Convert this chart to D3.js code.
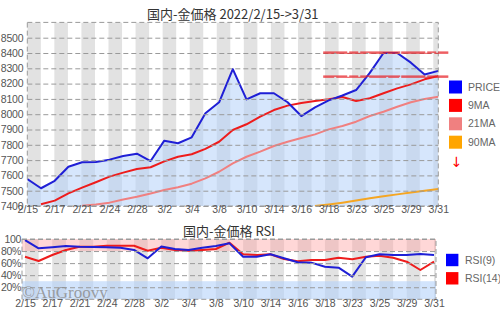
<!DOCTYPE html>
<html>
<head>
<meta charset="utf-8">
<script src="https://cdn.jsdelivr.net/npm/d3@7"></script>
<style>
body { margin: 0; background: #fff; }
svg { display: block; font-family: "Liberation Sans", Arial, sans-serif; }
</style>
</head>
<body>
<div id="chart"></div>
<script>
// trading days 2022/2/15 -> 3/31
const dates = ["2/15","2/16","2/17","2/18","2/21","2/22","2/24","2/25","2/28","3/1",
    "3/2","3/3","3/4","3/7","3/8","3/9","3/10","3/11","3/14","3/15",
    "3/16","3/17","3/18","3/22","3/23","3/24","3/25","3/28","3/29","3/30","3/31"];

const price = [7576, 7516, 7565, 7657, 7686, 7688, 7703, 7727, 7742, 7694,
    7827, 7810, 7849, 8006, 8078, 8295, 8097, 8137, 8137, 8078,
    7988, 8045, 8090, 8122, 8158, 8270, 8400, 8400, 8337, 8259, 8283];

const ma9 = [null, 7411, 7435, 7483, 7520, 7555, 7592, 7618, 7642, 7653,
    7692, 7722, 7738, 7773, 7820, 7897, 7934, 7984, 8027, 8056,
    8073, 8086, 8097, 8112, 8086, 8104, 8137, 8169, 8195, 8228, 8250];

const ma21 = [null, null, null, null, 7402, 7410, 7422, 7443, 7460, 7482,
    7505, 7522, 7546, 7581, 7624, 7679, 7722, 7755, 7792, 7820,
    7844, 7868, 7901, 7923, 7951, 7988, 8016, 8049, 8078, 8099, 8114];

const ma90 = [null, null, null, null, null, null, null, null, null, null,
    null, null, null, null, null, null, null, null, null, null,
    null, 7400, 7410, 7422, 7436, 7450, 7463, 7476, 7488, 7500, 7511];

const rsi9 = [98.3, 84.5, 86.2, 88.4, 87.2, 86.7, 86.2, 85.6, 81.8, 68,
    87.5, 83.4, 81.8, 85.6, 88.4, 92.8, 70.6, 70.6, 74.6, 68,
    61.4, 60.8, 54, 52.4, 37.5, 69.7, 74.6, 73.5, 73.5, 75.1, 73.5];

const rsi14 = [70.6, 63.5, 73.5, 81.8, 87.2, 87.2, 88.9, 88.9, 88.9, 80.6,
    85.6, 81.8, 80.6, 81.8, 83.4, 93.9, 74.6, 73.5, 74.6, 66.8,
    63, 65.2, 65.2, 69, 66.3, 70.6, 72.3, 69, 62.4, 48.6, 62.4];

// hand drawn resistance levels
const resistLevels = [8402, 8245];
const resistFrom = 21.6;

const priceTicks = d3.range(7400, 8501, 100);
const rsiTicks = [20, 40, 60, 80, 100];

const legendMain = [
    {name: "PRICE", color: "#0000ff"},
    {name: "9MA", color: "#ff0000"},
    {name: "21MA", color: "#f08080"},
    {name: "90MA", color: "#ffa500"}
];
const legendRsi = [
    {name: "RSI(9)", color: "#0000ff"},
    {name: "RSI(14)", color: "#ff0000"}
];

const width = 500, height = 310;
const svg = d3.select("#chart").append("svg")
    .attr("width", width)
    .attr("height", height);

const gridColor = "#9a9a9a";
const dash = "5,3";

// ---------------- main panel ----------------
const m = {left: 27.3, right: 438.3, top: 22.4, bottom: 206};

const x = d3.scaleLinear().domain([0, dates.length - 1]).range([m.left, m.right]);
const xBand = d3.scaleLinear().domain([0, dates.length - 1]).range([m.left, m.right - 5]);
const y = d3.scaleLinear().domain([7400, 8600]).range([m.bottom, m.top]);

svg.append("clipPath").attr("id", "clipMain")
    .append("rect")
    .attr("x", m.left).attr("y", m.top)
    .attr("width", m.right - m.left).attr("height", m.bottom - m.top);

const main = svg.append("g");
const plot = main.append("g").attr("clip-path", "url(#clipMain)");

const bandStep = xBand(1) - xBand(0);
plot.selectAll(".band")
    .data(d3.range(0, dates.length, 2))
    .join("rect")
    .attr("class", "band")
    .attr("x", d => xBand(d))
    .attr("y", m.top)
    .attr("width", bandStep)
    .attr("height", m.bottom - m.top)
    .attr("fill", "#e2e2e2");

// grid + y labels
const yAxis = main.append("g")
    .attr("transform", "translate(" + m.left + ",0)")
    .call(d3.axisLeft(y).tickValues(priceTicks).tickFormat(d3.format("d"))
        .tickSizeInner(-(m.right - m.left)).tickSizeOuter(0).tickPadding(4));
yAxis.select(".domain").remove();
yAxis.selectAll("line").attr("stroke", gridColor).attr("stroke-dasharray", dash);
yAxis.selectAll("text").attr("fill", "#555").attr("font-size", "10.5px").attr("letter-spacing", "-0.2px");

main.append("rect")
    .attr("x", m.left).attr("y", m.top)
    .attr("width", m.right - m.left).attr("height", m.bottom - m.top)
    .attr("fill", "none")
    .attr("stroke", gridColor)
    .attr("stroke-dasharray", dash);

// price area
plot.append("path")
    .datum(price)
    .attr("fill", "rgba(180,210,250,0.55)")
    .attr("d", d3.area()
        .x((d, i) => x(i))
        .y0(m.bottom)
        .y1(d => y(d)));

const line = d3.line()
    .defined(d => d !== null)
    .x((d, i) => x(i))
    .y(d => y(d));

[[ma90, "#f5a623"], [ma21, "#f08080"], [ma9, "#ee1c1c"], [price, "#1f1fd6"]].forEach(function (s) {
    plot.append("path")
        .datum(s[0])
        .attr("fill", "none")
        .attr("stroke", s[1])
        .attr("stroke-width", 2)
        .attr("stroke-linejoin", "round")
        .attr("d", line);
});

// resistance lines (marker style, doubled)
resistLevels.forEach(function (v) {
    [[-0.6, 0.9, "24,2,9,2,40,1"], [0.7, 0.65, "11,2,30,3,17,2"]].forEach(function (o) {
        main.append("line")
            .attr("x1", x(resistFrom))
            .attr("x2", m.right + 10)
            .attr("y1", y(v) + o[0])
            .attr("y2", y(v) + o[0])
            .attr("stroke", "#e8262b")
            .attr("stroke-opacity", o[1])
            .attr("stroke-width", 1.4)
            .attr("stroke-dasharray", o[2]);
    });
});

// x labels
const xAxis = main.append("g")
    .attr("transform", "translate(0," + m.bottom + ")")
    .call(d3.axisBottom(x).tickValues(d3.range(0, dates.length, 2)).tickFormat(i => dates[i]).tickSize(0).tickPadding(0));
xAxis.select(".domain").remove();
xAxis.selectAll("text").attr("fill", "#555").attr("font-size", "10.5px");

main.append("text")
    .attr("x", (m.left + m.right) / 2)
    .attr("y", 18.5)
    .attr("text-anchor", "middle")
    .attr("font-family", "'Noto Sans CJK JP', 'Noto Sans', sans-serif")
    .attr("font-size", "13px")
    .attr("fill", "#333")
    .text("国内-金価格 2022/2/15->3/31");

// legend
const leg = main.selectAll(".leg")
    .data(legendMain)
    .join("g")
    .attr("class", "leg")
    .attr("transform", (d, i) => "translate(449," + (87 + i * 18.4) + ")");
leg.append("rect")
    .attr("x", 0).attr("y", -6.5)
    .attr("width", 13).attr("height", 13)
    .attr("fill", d => d.color);
leg.append("text")
    .attr("x", 19).attr("dy", "0.35em")
    .attr("font-size", "10.5px")
    .attr("fill", "#666")
    .text(d => d.name);

main.append("text")
    .attr("x", 456.5).attr("y", 162)
    .attr("dy", "0.35em")
    .attr("text-anchor", "middle")
    .attr("font-family", "'DejaVu Sans', sans-serif")
    .attr("font-size", "14px")
    .attr("fill", "#ff0000")
    .text("↓");

// ---------------- RSI panel ----------------
const r = {left: 22, right: 436, top: 239, bottom: 299.3};
const xr = d3.scaleLinear().domain([0, dates.length - 1]).range([25, 434]);
const yr = d3.scaleLinear().domain([0, 100]).range([r.bottom, r.top]);

svg.append("clipPath").attr("id", "clipRsi")
    .append("rect")
    .attr("x", r.left).attr("y", r.top)
    .attr("width", r.right - r.left).attr("height", r.bottom - r.top);

const rsi = svg.append("g");
const rplot = rsi.append("g").attr("clip-path", "url(#clipRsi)");

rplot.selectAll(".band")
    .data(d3.range(0, dates.length, 2))
    .join("rect")
    .attr("class", "band")
    .attr("x", d => xr(d))
    .attr("y", r.top)
    .attr("width", xr(1) - xr(0))
    .attr("height", r.bottom - r.top)
    .attr("fill", "#e2e2e2");

rplot.append("rect")
    .attr("x", r.left).attr("y", yr(100))
    .attr("width", r.right - r.left).attr("height", yr(80) - yr(100))
    .attr("fill", "rgba(255,160,160,0.42)");
rplot.append("rect")
    .attr("x", r.left).attr("y", yr(30))
    .attr("width", r.right - r.left).attr("height", yr(0) - yr(30))
    .attr("fill", "rgba(180,210,250,0.6)");

const rAxis = rsi.append("g")
    .attr("transform", "translate(" + r.left + ",0)")
    .call(d3.axisLeft(yr).tickValues(rsiTicks).tickFormat(d => d === 100 ? "100" : d + "%")
        .tickSizeInner(-(r.right - r.left)).tickSizeOuter(0).tickPadding(1));
rAxis.select(".domain").remove();
rAxis.selectAll("line").attr("stroke", gridColor).attr("stroke-dasharray", dash);
rAxis.selectAll("text").attr("fill", "#555").attr("font-size", "10.5px").attr("letter-spacing", "-0.3px");

rsi.append("rect")
    .attr("x", r.left).attr("y", r.top)
    .attr("width", r.right - r.left).attr("height", r.bottom - r.top)
    .attr("fill", "none")
    .attr("stroke", gridColor)
    .attr("stroke-dasharray", dash);

const rline = d3.line()
    .x((d, i) => xr(i))
    .y(d => yr(d));

[[rsi14, "#ee1c1c"], [rsi9, "#1f1fd6"]].forEach(function (s) {
    rplot.append("path")
        .datum(s[0])
        .attr("fill", "none")
        .attr("stroke", s[1])
        .attr("stroke-width", 2)
        .attr("stroke-linejoin", "round")
        .attr("d", rline);
});

const rxAxis = rsi.append("g")
    .attr("transform", "translate(0," + r.bottom + ")")
    .call(d3.axisBottom(xr).tickValues(d3.range(0, dates.length, 2)).tickFormat(i => dates[i]).tickSize(0).tickPadding(0));
rxAxis.select(".domain").remove();
rxAxis.selectAll("text").attr("fill", "#555").attr("font-size", "10.5px");

rsi.append("text")
    .attr("x", 229)
    .attr("y", 235.5)
    .attr("text-anchor", "middle")
    .attr("font-family", "'Noto Sans CJK JP', 'Noto Sans', sans-serif")
    .attr("font-size", "13px")
    .attr("fill", "#333")
    .text("国内-金価格 RSI");

const rleg = rsi.selectAll(".rleg")
    .data(legendRsi)
    .join("g")
    .attr("class", "rleg")
    .attr("transform", (d, i) => "translate(446," + (260 + i * 18.3) + ")");
rleg.append("rect")
    .attr("x", 0).attr("y", -6.2)
    .attr("width", 12.4).attr("height", 12.4)
    .attr("fill", d => d.color);
rleg.append("text")
    .attr("x", 19).attr("dy", "0.35em")
    .attr("font-size", "10.5px")
    .attr("fill", "#666")
    .text(d => d.name);

// watermark
svg.append("text")
    .attr("x", 22)
    .attr("y", 298)
    .attr("font-family", "'Liberation Serif', 'Times New Roman', serif")
    .attr("font-size", "17px")
    .attr("fill", "#8a8a8a")
    .attr("fill-opacity", 0.8)
    .text("©AuGroovy");
</script>
</body>
</html>
